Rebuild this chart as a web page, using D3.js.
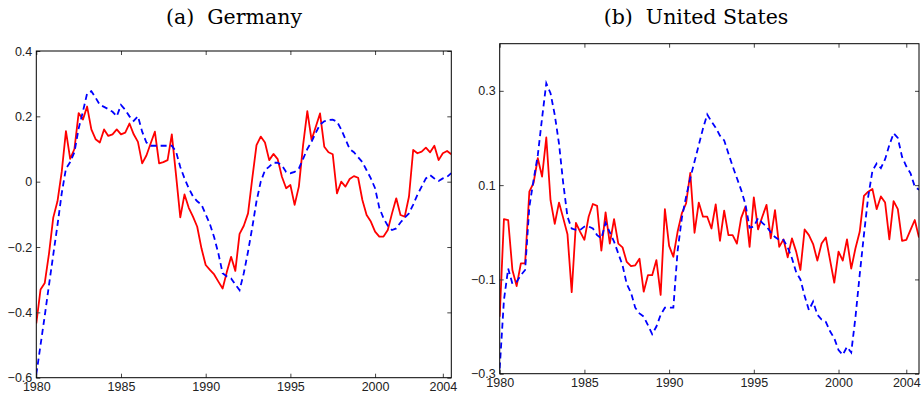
<!DOCTYPE html>
<html>
<head>
<meta charset="utf-8">
<script src="https://cdn.jsdelivr.net/npm/d3@7"></script>
<style>
  body { margin: 0; background: #fff; }
  svg text { font-family: "Liberation Sans", Arial, sans-serif; }
  .title { font-family: "DejaVu Serif", serif; }
</style>
</head>
<body>
<div id="chart"></div>
<script>
// quarterly series, first value is 1980Q1
const startYear = 1980;
const xTicks = [1980, 1985, 1990, 1995, 2000, 2004];
const deTicksY = [-0.6, -0.4, -0.2, 0, 0.2, 0.4];
const usTicksY = [-0.3, -0.1, 0.1, 0.3];

const deRed = [
  -0.434, -0.33, -0.31, -0.22, -0.11, -0.06, 0.03, 0.155, 0.07, 0.10,
  0.21, 0.19, 0.23, 0.16, 0.13, 0.12, 0.16, 0.14, 0.145, 0.16,
  0.145, 0.15, 0.178, 0.145, 0.122, 0.056, 0.08, 0.117, 0.153, 0.056,
  0.06, 0.066, 0.145, 0.02, -0.109, -0.039, -0.08, -0.107, -0.138, -0.204,
  -0.255, -0.27, -0.284, -0.306, -0.327, -0.276, -0.23, -0.273, -0.16, -0.135,
  -0.097, 0.01, 0.112, 0.138, 0.12, 0.066, 0.085, 0.069, 0.015, -0.02,
  -0.01, -0.071, -0.015, 0.112, 0.216, 0.128, 0.168, 0.209, 0.107, 0.09,
  0.084, -0.036, 0.0, -0.015, 0.008, 0.017, 0.012, -0.056, -0.102, -0.122,
  -0.153, -0.168, -0.168, -0.148, -0.097, -0.051, -0.102, -0.107, -0.046, 0.097,
  0.087, 0.092, 0.104, 0.09, 0.11, 0.066, 0.087, 0.094, 0.084
];
const deBlue = [
  -0.59, -0.5, -0.41, -0.316, -0.224, -0.133, -0.036, 0.04, 0.06, 0.09,
  0.163, 0.214, 0.27, 0.277, 0.257, 0.235, 0.229, 0.222, 0.214, 0.2,
  0.235, 0.22, 0.2, 0.186, 0.2, 0.153, 0.12, 0.11, 0.11, 0.11,
  0.11, 0.11, 0.11, 0.092, 0.045, 0.01, -0.02, -0.045, -0.06, -0.07,
  -0.1, -0.13, -0.17, -0.22, -0.28, -0.29, -0.296, -0.315, -0.332, -0.28,
  -0.214, -0.14, -0.06, 0.0, 0.035, 0.046, 0.058, 0.058, 0.05, 0.03,
  0.026, 0.03, 0.04, 0.07, 0.1, 0.122, 0.15, 0.175, 0.185, 0.189,
  0.19, 0.184, 0.16, 0.13, 0.1, 0.09, 0.075, 0.06, 0.035, 0.01,
  -0.02, -0.08, -0.112, -0.135, -0.148, -0.143, -0.125, -0.11, -0.097, -0.07,
  -0.04, -0.015, 0.01, 0.02, 0.01, 0.002, 0.01, 0.015, 0.026
];
const usRed = [
  -0.179, 0.028, 0.026, -0.08, -0.114, -0.066, -0.066, 0.086, 0.105, 0.157,
  0.118, 0.201, 0.068, 0.018, 0.063, 0.03, -0.004, -0.127, 0.02, 0.001,
  -0.016, 0.033, 0.06, 0.056, -0.039, 0.042, -0.024, 0.028, -0.024, -0.032,
  -0.063, -0.072, -0.07, -0.056, -0.126, -0.091, -0.091, -0.059, -0.133, 0.049,
  -0.029, -0.052, 0.001, 0.04, 0.061, 0.126, -0.001, 0.063, 0.033, 0.033,
  0.008, 0.059, -0.018, 0.046, -0.006, -0.006, -0.024, 0.03, 0.054, -0.031,
  0.074, 0.006, 0.033, 0.058, -0.013, 0.047, -0.031, -0.015, -0.053, -0.013,
  -0.041, -0.08, 0.006, -0.006, -0.025, -0.06, -0.024, -0.011, -0.059, -0.107,
  -0.041, -0.06, -0.015, -0.077, -0.034, 0.001, 0.077, 0.086, 0.092, 0.049,
  0.076, 0.063, -0.015, 0.066, 0.049, -0.018, -0.016, 0.005, 0.026, -0.011
];
const usBlue = [
  -0.289, -0.144, -0.077, -0.109, -0.105, -0.091, -0.08, 0.054, 0.111, 0.164,
  0.242, 0.316, 0.295, 0.249, 0.188, 0.104, 0.033, 0.008, 0.005, 0.005,
  0.012, 0.012, 0.008, -0.006, -0.013, 0.02, 0.0, -0.02, -0.045, -0.07,
  -0.11, -0.128, -0.16, -0.172, -0.179, -0.197, -0.216, -0.2, -0.175, -0.16,
  -0.16, -0.16, -0.04, 0.03, 0.075, 0.115, 0.15, 0.185, 0.22, 0.25,
  0.235, 0.222, 0.205, 0.195, 0.167, 0.14, 0.115, 0.09, 0.06, 0.01,
  0.012, 0.03, 0.02, 0.012, 0.0, -0.01, -0.016, -0.016, -0.032, -0.055,
  -0.085, -0.1, -0.135, -0.165, -0.147, -0.175, -0.185, -0.19, -0.21, -0.225,
  -0.25, -0.26, -0.243, -0.255, -0.18, -0.09, -0.005, 0.075, 0.13, 0.146,
  0.136, 0.155, 0.185, 0.21, 0.2, 0.16, 0.14, 0.125, 0.097, 0.09
];

const width = 922;
const height = 394;

const panels = [
  {id: 'de', title: '(a)  Germany', titleX: 234, left: 36.3, right: 451.3, top: 51, bottom: 377.7,
   xEnd: 2004.5, yDomain: [-0.6, 0.4], yTicks: deTicksY, red: deRed, blue: deBlue},
  {id: 'us', title: '(b)  United States', titleX: 696, left: 499.7, right: 919, top: 43.7, bottom: 373.7,
   xEnd: 2004.75, yDomain: [-0.3, 0.4], yTicks: usTicksY, red: usRed, blue: usBlue}
];

const svg = d3.select('#chart')
  .append('svg')
  .attr('width', width)
  .attr('height', height);

const fmtY = (d) => d === 0 ? '0' : d3.format('.1f')(d);

function addPanel(p) {
  const x = d3.scaleLinear()
              .domain([startYear, p.xEnd])
              .range([p.left, p.right]);
  const y = d3.scaleLinear()
              .domain(p.yDomain)
              .range([p.bottom, p.top]);

  svg.append('text')
     .attr('class', 'title')
     .attr('x', p.titleX)
     .attr('y', 24)
     .attr('text-anchor', 'middle')
     .style('font-size', '20.5px')
     .style('white-space', 'pre')
     .text(p.title);

  svg.append('clipPath')
     .attr('id', `clip-${p.id}`)
     .append('rect')
     .attr('x', p.left)
     .attr('y', p.top)
     .attr('width', p.right - p.left)
     .attr('height', p.bottom - p.top);

  const line = d3.line()
                 .x((d, i) => x(startYear + i / 4))
                 .y((d) => y(d));

  const g = svg.append('g').attr('clip-path', `url(#clip-${p.id})`);
  g.append('path')
   .attr('d', line(p.red))
   .attr('fill', 'none')
   .attr('stroke', '#ff0000')
   .attr('stroke-width', 1.8)
   .attr('stroke-linejoin', 'round');
  g.append('path')
   .attr('d', line(p.blue))
   .attr('fill', 'none')
   .attr('stroke', '#0000ff')
   .attr('stroke-width', 1.8)
   .attr('stroke-dasharray', '6,4');

  // axes with inward ticks on all four sides
  const axes = [
    {axis: d3.axisBottom(x).tickValues(xTicks).tickFormat(d3.format('d')).tickPadding(4), tr: `translate(0,${p.bottom})`},
    {axis: d3.axisTop(x).tickValues(xTicks).tickFormat(''), tr: `translate(0,${p.top})`},
    {axis: d3.axisLeft(y).tickValues(p.yTicks).tickFormat(fmtY).tickPadding(4), tr: `translate(${p.left},0)`},
    {axis: d3.axisRight(y).tickValues(p.yTicks).tickFormat(''), tr: `translate(${p.right},0)`}
  ];
  for (const a of axes) {
    const ag = svg.append('g')
                  .attr('transform', a.tr)
                  .call(a.axis.tickSizeInner(-4).tickSizeOuter(0));
    ag.select('.domain').remove();
    ag.selectAll('line').attr('stroke', '#444');
    ag.selectAll('text')
      .style('font-size', '12.5px')
      .attr('fill', '#222');
  }

  svg.append('rect')
     .attr('x', p.left)
     .attr('y', p.top)
     .attr('width', p.right - p.left)
     .attr('height', p.bottom - p.top)
     .attr('fill', 'none')
     .attr('stroke', '#000')
     .attr('stroke-width', 1);
}

panels.forEach(addPanel);
</script>
</body>
</html>
